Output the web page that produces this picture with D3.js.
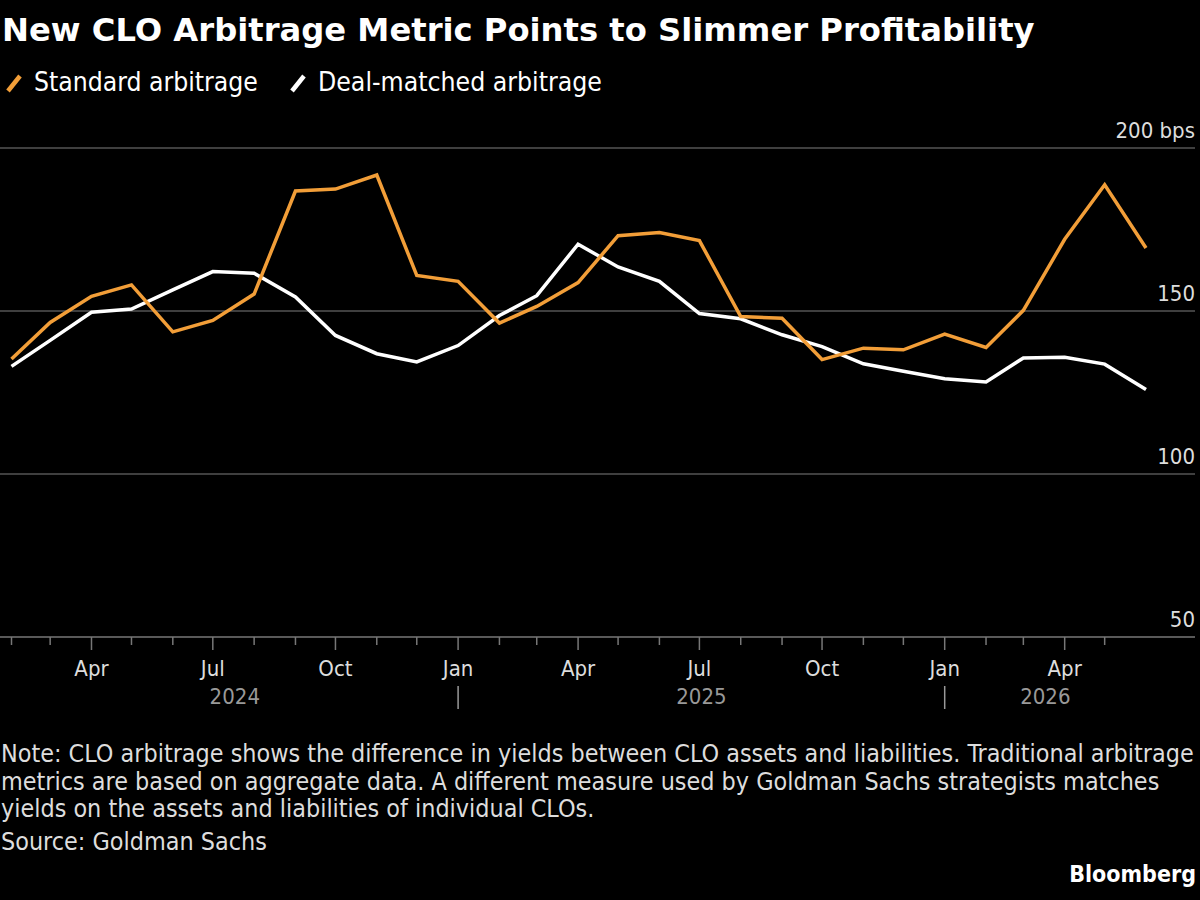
<!DOCTYPE html>
<html>
<head>
<meta charset="utf-8">
<script src="https://cdn.jsdelivr.net/npm/d3@7"></script>
<style>
  body { margin: 0; background: #000; }
  svg { display: block; }
  text { font-family: "DejaVu Sans Condensed", "DejaVu Sans", sans-serif; }
</style>
</head>
<body>
<div id="chart"></div>
<script>
// monthly readings, Feb 2024 .. Jun 2026
const months = d3.timeMonths(new Date(2024, 1, 1), new Date(2026, 6, 1));
const standardArb = [135.3, 146.5, 154.5, 158, 143.6, 147.1, 155.2, 186.8, 187.4, 191.7, 160.9, 159.1,
  146.3, 151.4, 158.7, 173.1, 174.1, 171.6, 148.3, 147.8, 135.1, 138.6, 138.1, 142.9, 138.8, 150.2,
  172.0, 188.7, 169.3];
const dealMatchedArb = [133, 141, 149.6, 150.6, 156.5, 162.1, 161.6, 154.3, 142.5, 136.9, 134.4, 139.4,
  148.6, 154.7, 170.5, 163.5, 159.1, 149.2, 147.6, 142.7, 139.1, 133.8, 131.5, 129.2, 128.2, 135.6,
  135.8, 133.7, 125.9];
const yTicks = [50, 100, 150, 200];
const seriesNames = ["Standard arbitrage", "Deal-matched arbitrage"];
const seriesColors = ["#f29e38", "#ffffff"];
const noteLines = [
  "Note: CLO arbitrage shows the difference in yields between CLO assets and liabilities. Traditional arbitrage",
  "metrics are based on aggregate data. A different measure used by Goldman Sachs strategists matches",
  "yields on the assets and liabilities of individual CLOs."
];

const width = 1200, height = 900;
const svg = d3.select("#chart").append("svg")
    .attr("width", width)
    .attr("height", height)
    .style("background", "#000");

const x = d3.scaleTime()
    .domain([months[0], months[months.length - 1]])
    .range([11.5, 1146]);
const y = d3.scaleLinear().domain([50, 200]).range([637, 148]);

// fit a text element to a target width by adjusting font size, returns new size
function fit(sel, target) {
  const w = sel.node().getComputedTextLength();
  const fs = parseFloat(sel.attr("font-size")) * target / w;
  sel.attr("font-size", fs);
  return fs;
}

// title
const title = svg.append("text")
    .attr("x", 2).attr("y", 41)
    .attr("fill", "#fff")
    .attr("font-size", 32)
    .attr("font-weight", "bold")
    .style("font-family", "'DejaVu Sans', sans-serif")
    .text("New CLO Arbitrage Metric Points to Slimmer Profitability");
fit(title, 1033);

// legend
const legendX = [6, 290];
const legendW = [224, 284];
seriesNames.forEach((name, i) => {
  const g = svg.append("g").attr("transform", `translate(${legendX[i]},0)`);
  g.append("line")
      .attr("x1", 2).attr("y1", 91).attr("x2", 14).attr("y2", 76)
      .attr("stroke", seriesColors[i])
      .attr("stroke-width", 4.5);
  const t = g.append("text")
      .attr("x", 28).attr("y", 91)
      .attr("fill", "#fff")
      .attr("font-size", 25)
      .text(name);
  fit(t, legendW[i]);
});

// grid + y labels
svg.selectAll(".grid")
  .data(yTicks)
  .enter().append("line")
    .attr("x1", 0).attr("x2", 1195)
    .attr("y1", d => y(d)).attr("y2", d => y(d))
    .attr("stroke", d => d === 50 ? "#777" : "#555")
    .attr("stroke-width", 1.5);

svg.selectAll(".ylab")
  .data(yTicks)
  .enter().append("text")
    .attr("x", 1195)
    .attr("y", d => y(d) - 10)
    .attr("text-anchor", "end")
    .attr("fill", "#ddd")
    .attr("font-size", 22)
    .text(d => d === 200 ? "200 bps" : d);

// x axis ticks
const allTicks = d3.timeMonths(new Date(2024, 1, 1), new Date(2026, 5, 1));
const major = allTicks.filter(d => d.getMonth() % 3 === 0);
svg.selectAll(".tick")
  .data(allTicks)
  .enter().append("line")
    .attr("x1", d => x(d)).attr("x2", d => x(d))
    .attr("y1", 637)
    .attr("y2", d => d.getMonth() % 3 === 0 ? 650 : 645)
    .attr("stroke", "#777")
    .attr("stroke-width", 1.5);

const fmt = d3.timeFormat("%b");
svg.selectAll(".xlab")
  .data(major)
  .enter().append("text")
    .attr("x", d => x(d))
    .attr("y", 676)
    .attr("text-anchor", "middle")
    .attr("fill", "#ddd")
    .attr("font-size", 22)
    .text(d => fmt(d));

// year row
const yearBreaks = [new Date(2025, 0, 1), new Date(2026, 0, 1)];
const yearEdges = [months[0], ...yearBreaks, months[months.length - 1]];
const years = ["2024", "2025", "2026"];
svg.selectAll(".year")
  .data(years)
  .enter().append("text")
    .attr("x", (d, i) => (x(yearEdges[i]) + x(yearEdges[i + 1])) / 2)
    .attr("y", 704)
    .attr("text-anchor", "middle")
    .attr("fill", "#999")
    .attr("font-size", 22)
    .text(d => d);
svg.selectAll(".ysep")
  .data(yearBreaks)
  .enter().append("line")
    .attr("x1", d => x(d)).attr("x2", d => x(d))
    .attr("y1", 686).attr("y2", 709)
    .attr("stroke", "#999")
    .attr("stroke-width", 1.5);

// lines
const line = d3.line()
    .x((d, i) => x(months[i]))
    .y(d => y(d));

[dealMatchedArb, standardArb].forEach((vals, k) => {
  svg.append("path")
      .datum(vals)
      .attr("fill", "none")
      .attr("stroke", k === 0 ? seriesColors[1] : seriesColors[0])
      .attr("stroke-width", 3.5)
      .attr("stroke-linejoin", "miter")
      .attr("d", line);
});

// footer
let noteSize = 22;
noteLines.forEach((t, i) => {
  const el = svg.append("text")
      .attr("x", 1).attr("y", 762 + i * 27.5)
      .attr("fill", "#ddd")
      .attr("font-size", noteSize)
      .text(t);
  if (i === 0) noteSize = fit(el, 1193);
});
svg.append("text")
    .attr("x", 1).attr("y", 850)
    .attr("fill", "#ddd")
    .attr("font-size", noteSize)
    .text("Source: Goldman Sachs");
svg.append("text")
    .attr("x", 1196).attr("y", 882)
    .attr("text-anchor", "end")
    .attr("fill", "#fff")
    .attr("font-size", 23)
    .attr("font-weight", "bold")
    .text("Bloomberg");
</script>
</body>
</html>
